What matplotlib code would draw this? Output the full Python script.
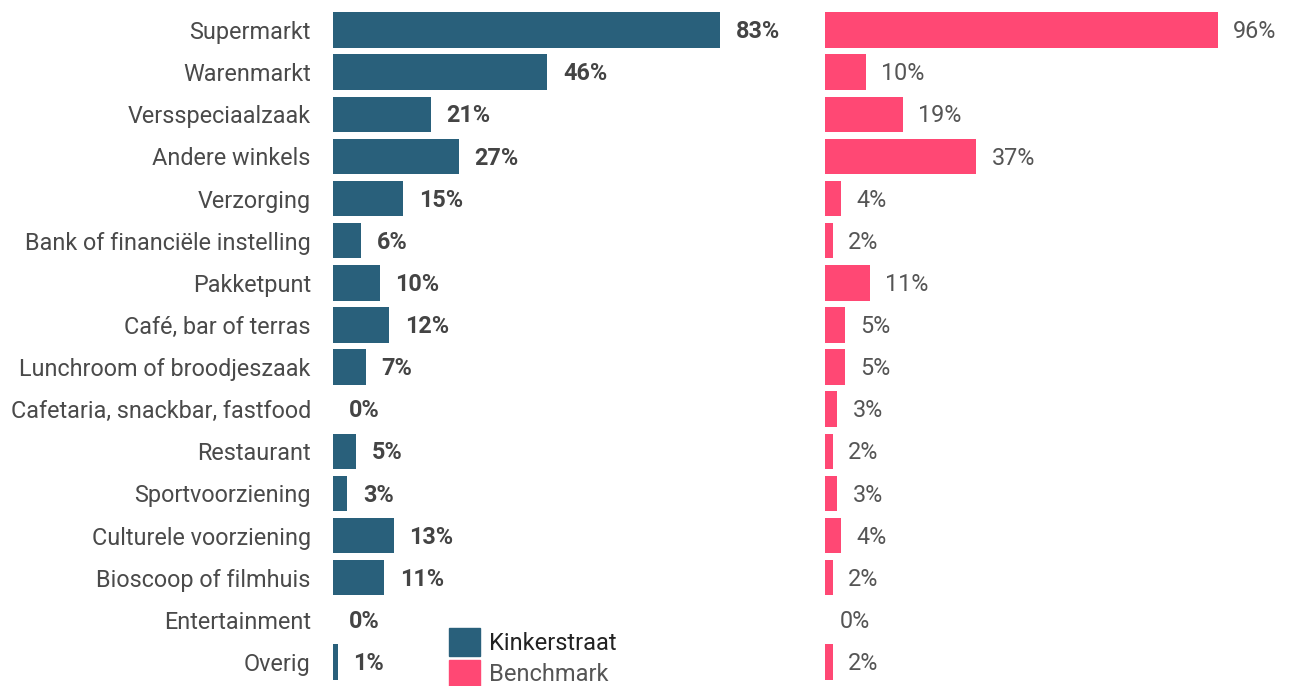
import matplotlib.pyplot as plt
from matplotlib.patches import Patch

plt.rcParams['font.family'] = ['Roboto', 'DejaVu Sans']

categories = ["Supermarkt", "Warenmarkt", "Versspeciaalzaak", "Andere winkels",
              "Verzorging", "Bank of financiële instelling", "Pakketpunt",
              "Café, bar of terras", "Lunchroom of broodjeszaak",
              "Cafetaria, snackbar, fastfood", "Restaurant", "Sportvoorziening",
              "Culturele voorziening", "Bioscoop of filmhuis", "Entertainment", "Overig"]
kinkerstraat = [83, 46, 21, 27, 15, 6, 10, 12, 7, 0, 5, 3, 13, 11, 0, 1]
benchmark = [96, 10, 19, 37, 4, 2, 11, 5, 5, 3, 2, 3, 4, 2, 0, 2]

blue = "#29607b"
pink = "#ff4874"
text_col = "#4a4a4a"

W, H = 1290, 686
fig = plt.figure(figsize=(W / 100, H / 100), dpi=100)

bottom = 3 / H
height = 674 / H
ax1 = fig.add_axes([333 / W, bottom, 466 / W, height])
ax2 = fig.add_axes([825 / W, bottom, 409 / W, height])

y = list(range(len(categories)))

def draw(ax, vals, color, weight, lab_col, off):
    ax.barh(y, vals, height=0.84, color=color)
    for yi, v in zip(y, vals):
        ax.text(v + off, yi + 0.04, f"{v}%", va="center", ha="left",
                fontsize=16.8, fontweight=weight, color=lab_col, clip_on=False)
    ax.set_xlim(0, 100)
    ax.set_ylim(len(categories) - 0.5, -0.5)
    for s in ax.spines.values():
        s.set_visible(False)
    ax.set_xticks([])
    ax.tick_params(axis="y", length=0)

draw(ax1, kinkerstraat, blue, "bold", "#444444", 3.4)
draw(ax2, benchmark, pink, "normal", "#555555", 3.7)

ax1.set_yticks(y)
ax1.set_yticklabels(categories, fontsize=16.8, color=text_col)
ax1.tick_params(axis="y", pad=16)
ax2.set_yticks([])

handles = [Patch(color=blue), Patch(color=pink)]
leg = fig.legend(handles, ["Kinkerstraat", "Benchmark"], loc="upper left",
                 bbox_to_anchor=(449 / W, 1 - 628 / H), frameon=False,
                 borderaxespad=0, borderpad=0, fontsize=17,
                 handlelength=1.31, handleheight=1.45, handletextpad=0.38,
                 labelspacing=0.15)
leg.get_texts()[0].set_color("#222222")
leg.get_texts()[1].set_color("#555555")

fig.savefig("out.png", dpi=100)
